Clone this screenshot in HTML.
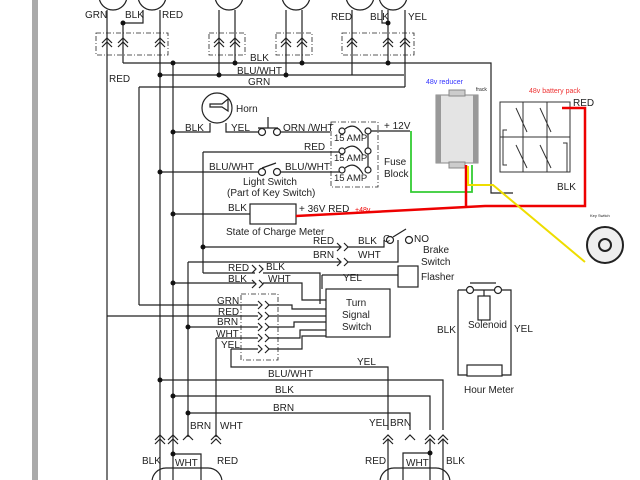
<!DOCTYPE html>
<html><head><style>
html,body{margin:0;padding:0;background:#fff;}
svg{display:block;font-family:"Liberation Sans",sans-serif;}
text{font-size:10px;fill:#222;}
</style></head><body>
<svg width="640" height="480" viewBox="0 0 640 480" xmlns="http://www.w3.org/2000/svg">
<rect x="0" y="0" width="640" height="480" fill="#fff"/>
<rect x="32" y="0" width="6" height="480" fill="#aaa"/>
<g stroke="#222" stroke-width="1.2" fill="none">
<!-- top lamps -->
<circle cx="113" cy="-4" r="14"/><circle cx="152" cy="-4" r="14"/>
<circle cx="229" cy="-4" r="14"/><circle cx="296" cy="-4" r="14"/>
<circle cx="360" cy="-4" r="14"/><circle cx="393" cy="-4" r="14"/>
<path d="M107 10V480M123 24V63M160 10V480M173 63V480M219 10V75M235 10V63M286 10V75M302 10V63M352 10V75M388 10V63M405 10V87"/>
<path d="M123 63H491V193H513M160 75H404M139 87H405M139 87V305M107 316H258"/>
<path d="M143 10V23H123"/><path d="M382 10V23H388"/>
<!-- vertical long -->
<path d="M188 262V437M203 152V273M216 338V437"/>
<!-- horn -->
<circle cx="217" cy="108" r="15"/>
<path d="M210 104h12l6-5v12l-6-4h-12z"/>
<path d="M173 132H210V123M226 123V132H258M281 132H330M268 128V117M258 128H278"/>
<circle cx="262" cy="132" r="3.5" fill="#fff"/><circle cx="277" cy="132" r="3.5" fill="#fff"/>
<path d="M203 152H340M160 172H258M281 172H340M262 168L276 163"/>
<circle cx="262" cy="172" r="3.5" fill="#fff"/><circle cx="277" cy="172" r="3.5" fill="#fff"/>
<!-- fuse block -->
<rect x="331" y="122" width="47" height="65" stroke-dasharray="5,2,1,2" stroke-width="0.8"/>
<circle cx="342" cy="131" r="3" fill="#fff"/><circle cx="368" cy="131" r="3" fill="#fff"/>
<circle cx="342" cy="151" r="3" fill="#fff"/><circle cx="368" cy="151" r="3" fill="#fff"/>
<circle cx="342" cy="170" r="3" fill="#fff"/><circle cx="368" cy="170" r="3" fill="#fff"/>
<path d="M345 129q10-8 18 6M345 149q10-8 18 6M345 168q10-8 18 6M368 134V148M368 154V167M371 131H410"/>
<!-- meter -->
<path d="M173 214H250"/><rect x="250" y="204" width="46" height="20"/>
<!-- brake rows -->
<path d="M203 247H340M188 262H340M337 243l4 4-4 4M337 258l4 4-4 4M344 243l4 4-4 4M344 258l4 4-4 4M348 247H384V240M348 262H398V240"/>
<circle cx="390" cy="240" r="3.5" fill="#fff"/><circle cx="409" cy="240" r="3.5" fill="#fff"/><path d="M393 237L406 229"/>
<!-- left connectors -->
<path d="M203 273H255M173 283H255M252 265l4 4-4 4M252 280l4 4-4 4M259 265l4 4-4 4M259 280l4 4-4 4M263 273H320V304M263 283H302V300H326"/>
<rect x="241" y="294" width="37" height="66" stroke-dasharray="5,2,1,2" stroke-width="0.8"/>
<path d="M139 305H258M188 327H258M216 338H258M231 349H258M231 349V367H388V430M258 301l4 4-4 4M258 312l4 4-4 4M258 323l4 4-4 4M258 334l4 4-4 4M258 345l4 4-4 4M265 301l4 4-4 4M265 312l4 4-4 4M265 323l4 4-4 4M265 334l4 4-4 4M265 345l4 4-4 4"/>
<path d="M269 305H292V309H326M269 316H326M269 327H294V322H326M269 338H300V330H326M269 349H302V336H326"/>
<rect x="326" y="289" width="64" height="48"/>
<path d="M322 275H398M322 275V289"/><rect x="398" y="266" width="20" height="21"/>
<path d="M160 380H443V430M173 396H430V430M188 413H410V430"/>
<!-- bottom chevrons -->
<path d="M155 440l5-5 5 5M155 444l5-5 5 5M168 440l5-5 5 5M168 444l5-5 5 5M183 440l5-5 5 5M211 440l5-5 5 5M211 444l5-5 5 5M383 440l5-5 5 5M383 444l5-5 5 5M405 440l5-5 5 5M425 440l5-5 5 5M425 444l5-5 5 5M438 440l5-5 5 5M438 444l5-5 5 5"/>
<path d="M173 454H201V480M388 440V480M403 480V453H430M430 440V480M443 440V480"/>
<rect x="152" y="468" width="70" height="30" rx="14"/><rect x="380" y="468" width="70" height="30" rx="14"/>
<!-- top connector boxes -->
<rect x="96" y="33" width="72" height="22" stroke-dasharray="5,2,1,2" stroke-width="0.8"/>
<rect x="209" y="33" width="36" height="22" stroke-dasharray="5,2,1,2" stroke-width="0.8"/>
<rect x="276" y="33" width="36" height="22" stroke-dasharray="5,2,1,2" stroke-width="0.8"/>
<rect x="342" y="33" width="72" height="22" stroke-dasharray="5,2,1,2" stroke-width="0.8"/>
<path d="M102 43l5-5 5 5M102 47l5-5 5 5M118 43l5-5 5 5M118 47l5-5 5 5M155 43l5-5 5 5M155 47l5-5 5 5M214 43l5-5 5 5M214 47l5-5 5 5M230 43l5-5 5 5M230 47l5-5 5 5M281 43l5-5 5 5M281 47l5-5 5 5M297 43l5-5 5 5M297 47l5-5 5 5M347 43l5-5 5 5M347 47l5-5 5 5M383 43l5-5 5 5M383 47l5-5 5 5M400 43l5-5 5 5M400 47l5-5 5 5"/>
<!-- solenoid -->
<path d="M458 290H467M473 290H495M501 290H511V375H502M458 290V375H467M484 290V296M470 283H496"/>
<circle cx="470" cy="290" r="3.5" fill="#fff"/><circle cx="498" cy="290" r="3.5" fill="#fff"/>
<rect x="478" y="296" width="12" height="24"/><rect x="467" y="365" width="35" height="11"/>
</g>
<g fill="#111">
<circle cx="123" cy="23" r="2.5"/><circle cx="173" cy="63" r="2.5"/><circle cx="160" cy="75" r="2.5"/><circle cx="219" cy="75" r="2.5"/><circle cx="235" cy="63" r="2.5"/><circle cx="286" cy="75" r="2.5"/><circle cx="302" cy="63" r="2.5"/><circle cx="388" cy="63" r="2.5"/><circle cx="388" cy="23" r="2.5"/>
<circle cx="173" cy="132" r="2.5"/><circle cx="160" cy="172" r="2.5"/><circle cx="173" cy="214" r="2.5"/><circle cx="203" cy="247" r="2.5"/><circle cx="173" cy="283" r="2.5"/><circle cx="188" cy="327" r="2.5"/><circle cx="160" cy="380" r="2.5"/><circle cx="173" cy="396" r="2.5"/><circle cx="188" cy="413" r="2.5"/><circle cx="173" cy="454" r="2.5"/><circle cx="430" cy="453" r="2.5"/>
</g>
<!-- reducer & battery -->
<rect x="436" y="95" width="42" height="68" fill="#e4e4e4" stroke="#888"/>
<rect x="436" y="95" width="5" height="68" fill="#999"/><rect x="473" y="95" width="5" height="68" fill="#999"/>
<rect x="449" y="90" width="16" height="6" fill="#ccc" stroke="#888"/><rect x="449" y="162" width="16" height="6" fill="#ccc" stroke="#888"/>
<g stroke="#333" fill="none" stroke-width="1">
<rect x="500" y="102" width="70" height="70"/><path d="M500 137H570M523 102V172M547 102V172"/>
<path d="M516 108L527 132M540 108L551 132M516 145L527 168M540 145L551 168M507 130H503V165H507M563 143H567V172"/>
</g>
<path d="M411 131V192H472V165" stroke="#3c3" stroke-width="1.8" fill="none"/>
<path d="M296 216L410 210L485 206H585V108H562M466 206V165" stroke="#e00" stroke-width="2.5" fill="none"/>
<path d="M468 166V185H493L585 262" stroke="#ed0" stroke-width="2" fill="none"/>
<circle cx="605" cy="245" r="18" fill="#eee" stroke="#222" stroke-width="2"/>
<circle cx="605" cy="245" r="6" fill="none" stroke="#222" stroke-width="2"/>
<text x="85" y="18">GRN</text><text x="125" y="18">BLK</text><text x="162" y="18">RED</text>
<text x="331" y="20">RED</text><text x="370" y="20">BLK</text><text x="408" y="20">YEL</text>
<text x="250" y="61">BLK</text><text x="237" y="74">BLU/WHT</text><text x="248" y="85">GRN</text>
<text x="109" y="82">RED</text>
<text x="236" y="112">Horn</text><text x="185" y="131">BLK</text><text x="231" y="131">YEL</text><text x="283" y="131">ORN /WHT</text>
<text x="304" y="150">RED</text><text x="209" y="170">BLU/WHT</text><text x="285" y="170">BLU/WHT</text>
<text x="243" y="185">Light Switch</text><text x="227" y="196">(Part of Key Switch)</text>
<text x="334" y="141" style="font-size:9.5px">15 AMP</text><text x="334" y="161" style="font-size:9.5px">15 AMP</text><text x="334" y="181" style="font-size:9.5px">15 AMP</text>
<text x="384" y="129">+ 12V</text><text x="384" y="165">Fuse</text><text x="384" y="177">Block</text>
<text x="228" y="211">BLK</text><text x="299" y="212">+ 36V RED</text><text x="355" y="212" style="font-size:7px;fill:#e00">+48v</text>
<text x="226" y="235">State of Charge Meter</text>
<text x="313" y="244">RED</text><text x="313" y="258">BRN</text><text x="358" y="244">BLK</text><text x="358" y="258">WHT</text>
<text x="383" y="242">C</text><text x="414" y="242">NO</text><text x="423" y="253">Brake</text><text x="421" y="265">Switch</text>
<text x="228" y="271">RED</text><text x="228" y="282">BLK</text><text x="266" y="270">BLK</text><text x="268" y="282">WHT</text>
<text x="343" y="281">YEL</text><text x="421" y="280">Flasher</text>
<text x="346" y="306">Turn</text><text x="342" y="318">Signal</text><text x="342" y="330">Switch</text>
<text x="217" y="304">GRN</text><text x="218" y="315">RED</text><text x="217" y="325">BRN</text><text x="216" y="337">WHT</text><text x="221" y="348">YEL</text>
<text x="357" y="365">YEL</text><text x="268" y="377">BLU/WHT</text><text x="275" y="393">BLK</text><text x="273" y="411">BRN</text>
<text x="190" y="429">BRN</text><text x="220" y="429">WHT</text><text x="369" y="426">YEL</text><text x="390" y="426">BRN</text>
<text x="142" y="464">BLK</text><text x="175" y="466">WHT</text><text x="217" y="464">RED</text>
<text x="365" y="464">RED</text><text x="406" y="466">WHT</text><text x="446" y="464">BLK</text>
<text x="437" y="333">BLK</text><text x="514" y="332">YEL</text><text x="468" y="328">Solenoid</text><text x="464" y="393">Hour Meter</text>
<text x="426" y="84" style="font-size:7px;fill:#33f">48v reducer</text>
<text x="476" y="91" style="font-size:5px">frack</text>
<text x="529" y="93" style="font-size:7px;fill:#e33">48v battery pack</text>
<text x="573" y="106">RED</text><text x="557" y="190">BLK</text>
<text x="590" y="217" style="font-size:4px">Key Switch</text>
</svg>
</body></html>
